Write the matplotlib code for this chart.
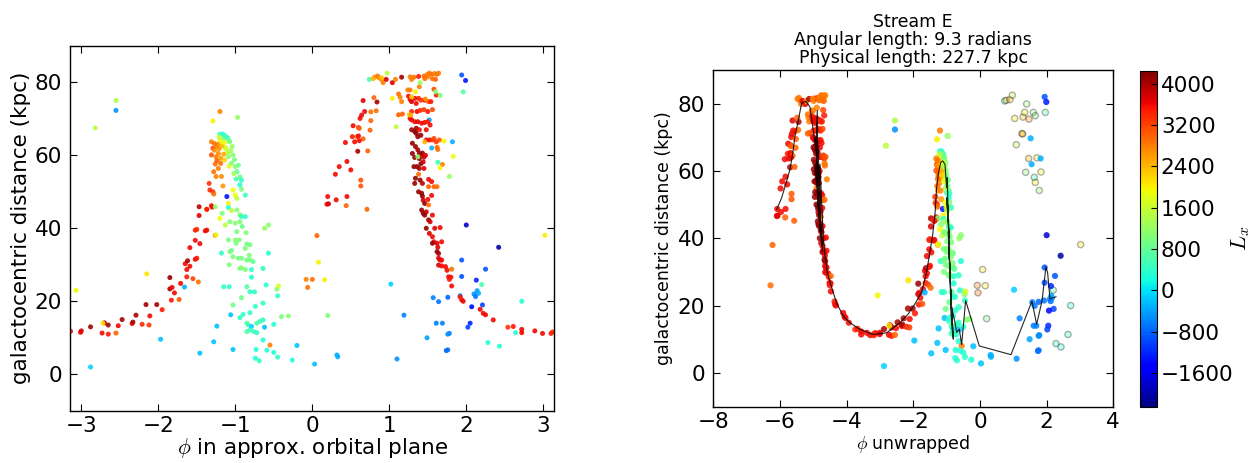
import numpy as np
import matplotlib
matplotlib.use("Agg")
import matplotlib.pyplot as plt
from matplotlib.colors import Normalize

plt.rcParams['mathtext.fontset'] = 'cm'
plt.rcParams['font.family'] = ['DejaVu Sans']

# ---------------- data (phi wrapped, galactocentric distance r, L_x) ----------------
# A1: red tail of near arm
tail_phi = [-3.14, -3.01, -3.00, -2.88, -2.73, -2.70, -2.65, -2.65, -2.55, -2.52,
            -2.47, -2.34, -2.33, -2.29, -2.21, -2.16, -2.12, -2.11, -2.02, -1.95,
            -1.85, -1.85, -1.82, -1.79, -1.83, -1.73, -1.71, -1.65, -1.63, -1.62,
            -1.63, -1.59, -1.59, -1.55, -1.52, -1.50, -1.52, -1.48, -1.46, -1.52,
            -1.50, -1.47, -1.47, -1.37, -1.37, -1.39, -1.26]
tail_r = [11.8, 11.5, 11.9, 13.0, 11.3, 14.1, 11.0, 13.5, 11.3, 13.3,
          15.0, 13.9, 14.3, 16.2, 13.7, 19.1, 13.5, 16.0, 19.1, 17.7,
          26.5, 23.4, 23.8, 22.3, 20.3, 20.5, 24.9, 30.3, 28.7, 31.1,
          26.7, 29.6, 34.7, 26.2, 31.5, 31.8, 36.7, 25.3, 35.8, 39.5,
          39.7, 45.9, 43.5, 45.2, 39.5, 39.3, 38.1]
tail_L = [3600, 3600, 3700, 4000, 3600, 4000, 3500, 4000, 3000, 3600,
          4000, 3600, 4000, 4000, 3400, 4000, 3300, 3600, 4000, 3500,
          4100, 4000, 3600, 3600, 3500, 3100, 3600, 3600, 3600, 4000,
          3500, 3600, 3600, 3200, 3600, 3500, 3600, 2900, 3600, 3500,
          3400, 3900, 3700, 3200, 3600, 3600, 2900]

# A2: isolated points
out_phi = [-3.07, -2.82, -2.55, -2.55, -2.88, -2.72, -2.15, -1.97, -1.66, -1.46]
out_r = [23.0, 67.5, 75.0, 72.3, 2.0, 14.0, 27.5, 9.6, 23.9, 5.8]
out_L = [1950, 1500, 1400, -500, -100, 2100, 2100, -200, -300, -200]

# A3: upper part of the phi ~ -1 peak
peak_phi = [-1.20, -1.29, -0.97, -1.20, -1.16, -1.10, -1.15, -1.07, -1.04, -1.20,
            -1.18, -1.13, -1.03, -1.09, -1.05, -1.00, -0.98, -0.94, -0.92, -0.94,
            -1.31, -1.29, -1.27, -1.24, -1.22, -1.25, -1.19, -1.31, -1.26, -1.22,
            -1.28, -1.25, -1.18, -1.16, -1.34, -1.33, -1.29, -1.28, -1.11, -1.03,
            -1.00, -0.98, -0.92, -0.87, -1.09, -1.09, -1.05, -0.98, -0.94, -0.92,
            -0.87, -1.31, -1.30, -1.26, -1.17, -1.20, -1.13, -1.07, -1.00, -0.94,
            -0.91, -0.98, -0.86, -1.37,
            -1.23, -1.21, -1.17, -1.14, -1.12, -1.10, -1.15, -1.19, -1.24, -1.27,
            -1.13, -1.08, -1.06, -1.01, -0.96, -0.99, -1.02, -1.08, -1.14, -1.21]
peak_r = [72.0, 69.4, 70.4, 65.8, 65.8, 64.8, 64.7, 63.7, 62.4, 64.2,
          63.3, 61.9, 60.1, 59.6, 57.8, 56.9, 55.5, 54.1, 53.2, 51.9,
          63.7, 61.9, 61.4, 62.4, 60.5, 59.6, 59.2, 60.1, 57.6, 56.4,
          55.5, 54.2, 54.2, 51.6, 52.3, 50.5, 50.0, 49.4, 48.7, 50.5,
          49.1, 48.2, 50.7, 49.1, 46.8, 45.7, 44.9, 45.0, 43.7, 43.2,
          43.2, 46.2, 45.8, 45.9, 44.1, 42.7, 40.9, 41.8, 41.4, 41.8,
          40.5, 39.1, 38.8, 45.2,
          63.0, 61.8, 62.6, 63.5, 62.0, 60.8, 60.3, 57.8, 58.5, 63.2,
          65.3, 64.0, 61.2, 58.8, 57.3, 53.5, 55.0, 57.0, 58.7, 65.0]
peak_L = [2800, 2000, 1200, 400, 300, 350, 900, 1100, 1200, 2000,
          1800, 1600, 1100, 1100, 1000, 1000, 800, 900, 400, 300,
          2800, 3200, 2700, 2800, 2700, 2800, 2600, 3100, 2900, 2800,
          2900, 2800, 2700, 2600, 3300, 3400, 3300, 2900, -1300, 1900,
          1900, 1500, 1000, 500, 2000, 300, 1500, 1100, 1000, 500,
          400, 3500, 3600, 1100, 1000, 1900, 1500, 1000, 1100, 1000,
          900, 1000, 1000, 3500,
          2700, 2600, 2400, 1900, 1700, 1500, 2500, 2900, 3000, 2900,
          600, 900, 1300, 1000, 900, 600, 1300, 1800, 2200, 1500]

# A4: lower part of the peak (green / cyan plume)
plume_phi = [-1.25, -1.09, -1.00, -0.99, -0.95, -0.85, -0.81, -0.87, -1.18, -1.07,
             -1.05, -1.03, -0.96, -0.92, -0.85, -0.81, -0.77, -0.82, -1.08, -0.94,
             -0.92, -0.87, -0.79, -0.64, -0.57, -0.62, -0.57, -0.79, -1.15, -1.08,
             -0.85, -0.81, -0.75, -0.60, -0.46, -0.44, -0.45, -0.92, -1.03, -0.74,
             -0.64, -0.81, -1.06, -0.94, -0.90, -1.24, -0.85, -0.83, -0.79, -0.72,
             -0.68, -0.64, -0.62, -0.85, -0.81, -0.76, -0.72, -0.50, -0.40, -0.31,
             -0.64, -0.55, -0.59, -0.50, -0.45, -0.73, -0.74, -0.69, -1.03, -1.28,
             -0.26, -0.20, 0.03, 0.32, 0.33]
plume_r = [38.2, 36.8, 36.8, 35.9, 36.8, 35.7, 35.5, 34.5, 33.2, 33.6,
           33.9, 32.2, 31.8, 31.8, 31.3, 31.3, 30.9, 32.6, 30.0, 29.0,
           29.2, 28.7, 28.7, 29.0, 33.2, 40.0, 40.9, 26.6, 24.0, 24.0,
           24.0, 22.6, 22.6, 24.5, 23.3, 24.2, 21.5, 21.0, 19.0, 18.6,
           19.5, 16.9, 16.3, 15.5, 16.4, 13.2, 14.0, 13.5, 13.1, 14.0,
           14.5, 14.9, 12.9, 11.7, 12.1, 11.7, 11.4, 13.7, 15.8, 16.0,
           9.4, 8.0, 6.6, 6.0, 4.7, 6.8, 4.4, 3.7, 6.8, 8.9,
           3.9, 7.9, 2.8, 5.3, 4.8]
plume_L = [1900, 1000, 1100, 1000, 1000, 1000, 900, 1000, 400, 1000,
           900, 1000, 900, 1000, 900, 1000, 800, 1000, 1000, 900,
           1100, 1000, 400, 400, 300, 1200, 1100, 300, 400, 400,
           700, 400, 400, 300, 1100, 1700, 400, 900, 900, 400,
           400, 400, -200, 400, 400, -200, 700, 500, -100, 600,
           500, 400, -200, 600, 500, 500, 400, 300, 1000, 1100,
           300, 2800, 300, 300, 400, 300, 300, 400, -200, -200,
           300, -200, -200, -300, -300]

# A5: negative L_x group near phi ~ 2
blue_phi = [1.02, 1.19, 1.49, 1.10, 1.94, 1.99, 1.52, 1.82, 2.00, 2.42,
            1.94, 2.25, 1.94, 2.13, 2.14, 2.16, 2.10, 2.12, 2.21, 2.07,
            2.05, 2.02, 1.92, 1.76, 1.64, 1.57, 1.61, 1.69, 1.78, 1.76,
            1.74, 1.76, 1.55]
blue_r = [24.7, 16.2, 10.0, 4.2, 82.0, 80.5, 69.7, 63.7, 40.9, 34.8,
          31.3, 28.8, 26.8, 25.8, 22.9, 22.2, 22.0, 21.3, 19.0, 18.5,
          14.0, 12.9, 21.5, 21.1, 19.9, 21.0, 14.0, 14.0, 11.2, 11.0,
          6.5, 6.7, 62.0]
blue_L = [-100, -600, -400, -500, -900, -1300, -300, -300, -1800, -2000,
          -900, -900, -900, -1200, -400, -300, -500, -700, -1000, -1400,
          -1200, -1000, -700, -800, -700, -600, -600, -600, -600, -500,
          -800, -700, -300]

# B: far arm (unwrapped by one turn in the right panel)
far1_phi = [0.81, 0.85, 0.87, 0.90, 0.92, 0.96, 1.04, 1.08, 1.16, 1.29,
            1.32, 1.38, 1.39, 1.46, 1.50, 1.27, 1.12, 1.14, 1.16, 0.66,
            0.84, 0.80, 0.83, 0.76, 0.68, 0.64, 0.62, 0.76, 0.53, 0.60,
            0.61, 0.58, 0.52, 0.60, 0.66, 0.75, 0.43, 0.55, 0.61, 0.59,
            0.72, 0.45, 0.35, 0.30, 0.50, 0.63, 0.63, 0.20, 0.45, 0.31,
            0.19, 0.21, 0.44, 0.71, 1.12, 1.17, 0.06, 0.00]
far1_r = [81.4, 81.7, 81.2, 80.8, 79.9, 80.8, 79.9, 80.8, 81.4, 80.8,
          81.4, 81.6, 78.8, 81.0, 81.5, 77.9, 76.8, 75.9, 74.7, 75.0,
          74.6, 75.8, 72.2, 71.9, 72.0, 71.0, 70.1, 69.5, 68.1, 67.6,
          67.4, 65.1, 65.1, 65.3, 64.5, 66.9, 63.5, 63.7, 64.0, 61.1,
          61.2, 58.3, 56.9, 54.8, 56.0, 53.2, 51.6, 48.7, 48.7, 47.8,
          46.6, 46.7, 46.2, 45.2, 71.1, 71.3, 38.0, 26.0]
far1_L = [2800, 2900, 2700, 2900, 2800, 3700, 3700, 2800, 4000, 2800,
          2900, 3500, 2800, 2900, 2800, 2800, 2900, 2800, 2800, 3700,
          4000, 3000, 2900, 2900, 3600, 3600, 3600, 3000, 3600, 3400,
          3000, 3000, 3500, 3600, 3000, 3000, 3600, 3600, 3600, 4000,
          3000, 3600, 3600, 3600, 3600, 3100, 3100, 3600, 3600, 3600,
          3600, 3700, 3000, 3000, 3000, 3000, 3000, 2900]

far2_phi = [1.45, 1.49, 1.52, 1.55, 1.59, 1.62, 1.64, 1.60, 1.56, 1.27,
            1.24, 1.58, 1.61, 1.38, 1.41, 1.46, 1.51, 1.54, 1.25, 1.27,
            1.29, 1.33, 1.35, 1.27, 1.29, 1.36, 1.40, 1.45, 1.50, 1.56,
            1.29, 1.33, 1.37, 1.42, 1.46, 1.50, 1.53, 1.29, 1.33, 1.35,
            1.39, 1.48, 1.35, 1.37, 1.41, 1.48, 1.52, 1.56, 1.58, 1.61,
            1.65, 1.63, 1.62]
far2_r = [81.7, 82.1, 82.5, 82.2, 82.4, 82.2, 82.5, 80.8, 81.0, 81.5,
          77.9, 78.1, 76.5, 75.6, 75.1, 75.1, 74.7, 74.7, 76.2, 75.3,
          74.7, 75.6, 74.2, 70.1, 72.0, 72.0, 72.3, 72.5, 72.0, 72.5,
          69.7, 69.2, 69.2, 68.8, 69.0, 69.2, 68.3, 67.0, 66.5, 67.4,
          67.0, 67.0, 66.0, 65.1, 65.5, 64.2, 64.2, 64.2, 64.6, 63.7,
          64.2, 61.6, 62.2]
far2_L = [2900, 2800, 2800, 2900, 2800, 2900, 2800, 3000, 2900, 2800,
          2800, 3200, 3500, 3500, 3300, 3600, 3200, 3500, 3600, 3600,
          3700, 3600, 3600, 3600, 3400, 3600, 3400, 3300, 3500, 3200,
          3600, 3600, 3700, 3600, 3600, 3500, 3600, 4100, 4100, 4100,
          3600, 3600, 4100, 4100, 4100, 3600, 3600, 3300, 3200, 3300,
          3100, 2900, 2900]

far3_phi = [1.30, 1.34, 1.37, 1.39, 1.41, 1.43, 1.45, 1.47, 1.30, 1.33,
            1.39, 1.41, 1.44, 1.32, 1.36, 1.39, 1.45, 1.38, 1.34, 1.33,
            1.40, 1.43, 1.51, 1.55, 1.51, 1.58, 1.62, 1.38, 1.42, 1.43,
            1.44, 1.46, 1.50, 1.55, 1.51, 1.42, 1.44, 1.48, 1.46, 1.51,
            1.53, 1.56, 1.48, 1.59, 1.66, 1.52, 1.56, 1.58, 1.56, 1.62,
            1.63, 1.68, 1.62, 1.64, 1.64, 1.66, 1.68, 1.64, 1.68, 1.73,
            1.75, 1.81, 1.77, 1.80, 1.78, 1.81, 1.94, 1.96, 1.92, 2.18,
            2.22, 2.25, 2.35, 2.54, 2.61, 2.72, 2.72, 2.89, 2.99, 3.10,
            3.12, 1.69]
far3_r = [63.3, 62.4, 61.5, 60.5, 60.0, 60.6, 59.5, 60.0, 60.5, 59.4,
          59.1, 57.7, 58.2, 56.9, 56.9, 56.4, 56.4, 54.8, 53.7, 52.3,
          53.2, 52.3, 53.4, 52.8, 51.4, 51.4, 51.4, 50.0, 49.6, 48.8,
          47.7, 46.8, 47.9, 49.0, 46.4, 45.0, 44.1, 44.5, 43.6, 42.3,
          41.8, 43.6, 40.0, 40.0, 40.2, 38.6, 37.7, 36.3, 35.9, 35.9,
          34.8, 36.3, 33.6, 33.1, 31.8, 31.3, 31.3, 29.9, 29.7, 29.5,
          28.5, 28.8, 26.7, 26.6, 26.0, 24.2, 20.4, 20.0, 21.2, 17.8,
          16.7, 16.3, 14.9, 12.9, 13.1, 12.3, 11.4, 11.9, 11.2, 11.2,
          11.6, 57.5]
far3_L = [4100, 4100, 4000, 4100, 3800, 4100, 3800, 3700, 4100, 4100,
          4100, 4100, 3800, 4100, 4100, 4000, 3700, 2900, 4100, 4100,
          4100, 3900, 3600, 3600, 3000, 3000, 2900, 4100, 4100, 4100,
          3800, 4100, 3600, 3600, 2900, 4100, 4100, 3800, 4100, 4100,
          3800, 3600, 4100, 3700, 3600, 3700, 3600, 3600, 4100, 3700,
          3700, 3600, 4100, 4000, 3700, 3700, 3600, 3700, 3600, 3600,
          3600, 2900, 3600, 3600, 3500, 3600, 3600, 3600, 3500, 3600,
          3600, 3600, 3600, 3300, 3500, 3600, 3600, 3600, 3600, 3500,
          3400, 2800]

# C: points drawn faded in the right panel
faded_phi = [0.74, 0.79, 0.90, 0.97, 1.40, 1.04, 1.29, 1.34, 1.47, 1.60,
             1.66, 1.96, 1.26, 1.28, 1.09, 1.46, 1.71, 1.83, 1.37, 1.63,
             1.66, 1.78, 3.02, 0.08, -0.08, 0.16, -0.06, 0.20, 2.20, 2.72,
             2.64, 2.28, 2.43]
faded_r = [80.8, 81.0, 81.2, 82.5, 79.9, 75.6, 76.0, 77.4, 75.4, 77.4,
           76.4, 77.4, 71.1, 71.0, 67.8, 63.7, 63.9, 59.7, 59.6, 58.1,
           56.6, 54.2, 38.1, 30.7, 26.0, 25.9, 23.8, 16.1, 24.6, 20.0,
           11.4, 8.7, 7.7]
faded_L = [500, 2400, 2300, 1500, 1200, 2000, 2300, 2000, 2600, 1100,
           1000, 700, 2300, 2500, 1500, 2400, 2000, 1900, 1100, 500,
           2000, 1200, 2000, 2000, 2800, 2000, 2900, 1000, 600, 300,
           300, 300, 300]

# track drawn over the unwrapped stream
track_x = [-6.10, -5.95, -5.80, -5.70, -5.62, -5.55, -5.45, -5.35, -5.22, -5.10,
           -5.00, -4.92, -4.88, -4.85, -4.92, -4.80, -4.90, -4.78, -4.95, -4.75,
           -4.88, -4.82, -4.90, -4.72, -4.85, -4.80, -4.70, -4.65, -4.58, -4.50,
           -4.40, -4.30, -4.10, -3.90, -3.60, -3.20, -2.80, -2.40, -2.15, -1.95,
           -1.75, -1.60, -1.50, -1.42, -1.35, -1.30, -1.25, -1.18, -1.12, -1.05,
           -1.00, -0.98, -0.95, -1.00, -0.92, -0.97, -0.90, -0.95, -0.85, -0.92,
           -0.82, -0.88, -0.80, -0.86, -0.75, -0.70, -0.62, -0.55, -0.43, -0.02,
           0.93, 1.56, 1.70, 1.86, 1.98, 2.03, 2.10, 2.28]
track_y = [48.5, 52.0, 57.0, 60.5, 65.0, 70.3, 75.0, 80.2, 80.7, 79.0,
           72.0, 66.0, 78.0, 48.0, 70.0, 42.0, 74.0, 50.0, 62.0, 38.0,
           66.0, 45.0, 60.0, 36.0, 55.0, 62.0, 40.0, 35.0, 30.0, 27.0,
           23.8, 20.8, 16.8, 14.9, 12.9, 11.4, 11.9, 14.9, 17.5, 20.5,
           24.0, 30.0, 36.0, 41.0, 47.0, 55.0, 59.0, 62.5, 63.0, 62.0,
           55.0, 58.0, 45.0, 52.0, 40.0, 50.0, 30.0, 42.0, 15.0, 35.0,
           11.0, 25.0, 10.0, 20.0, 15.0, 12.0, 13.0, 8.4, 21.5, 8.0,
           5.4, 21.3, 14.4, 21.3, 31.5, 29.7, 22.0, 22.6]

# ---------------- assemble ----------------
near_phi = np.array(tail_phi + out_phi + peak_phi + plume_phi + blue_phi)
near_r = np.array(tail_r + out_r + peak_r + plume_r + blue_r)
near_L = np.array(tail_L + out_L + peak_L + plume_L + blue_L)
far_phi = np.array(far1_phi + far2_phi + far3_phi)
far_r = np.array(far1_r + far2_r + far3_r)
far_L = np.array(far1_L + far2_L + far3_L)
fad_phi = np.array(faded_phi)
fad_r = np.array(faded_r)
fad_L = np.array(faded_L)

cmap = plt.get_cmap('jet')
norm = Normalize(vmin=-2250, vmax=4250)

W, H = 1258, 463
fig = plt.figure(figsize=(W / 100, H / 100), dpi=100)
fig.patch.set_facecolor('white')

def fr(x0, y0, x1, y1):
    return [x0 / W, 1 - y1 / H, (x1 - x0) / W, (y1 - y0) / H]

ax1 = fig.add_axes(fr(70.4, 45.8, 554.2, 410.8))
ax2 = fig.add_axes(fr(713.3, 70.0, 1113.3, 406.5))
cax = fig.add_axes(fr(1140.0, 70.7, 1156.7, 406.7))

TICK_FS = 15.5

# left panel
all_phi = np.concatenate([near_phi, far_phi, fad_phi])
all_r = np.concatenate([near_r, far_r, fad_r])
all_L = np.concatenate([near_L, far_L, fad_L])
ax1.scatter(all_phi, all_r, c=all_L, cmap=cmap, norm=norm, s=13,
            linewidths=0, alpha=0.9)
ax1.set_xlim(-np.pi, np.pi)
ax1.set_ylim(-10, 90)
ax1.set_xticks([-3, -2, -1, 0, 1, 2, 3])
ax1.set_yticks([0, 20, 40, 60, 80])
ax1.set_xlabel(r'$\phi$ in approx. orbital plane', fontsize=15.5, labelpad=0)
ax1.set_ylabel('galactocentric distance (kpc)', fontsize=15.5, labelpad=3)

# right panel
ax2.scatter(fad_phi, fad_r, c=fad_L, cmap=cmap, norm=norm, s=20,
            edgecolors='k', linewidths=1.0, alpha=0.3)
ax2.scatter(np.concatenate([near_phi, far_phi - 2 * np.pi]),
            np.concatenate([near_r, far_r]),
            c=np.concatenate([near_L, far_L]), cmap=cmap, norm=norm,
            s=20, linewidths=0, alpha=0.85)
ax2.plot(track_x, track_y, color='k', lw=0.8, alpha=0.85)
ax2.set_xlim(-8, 4)
ax2.set_ylim(-10, 90)
ax2.set_xticks([-8, -6, -4, -2, 0, 2, 4])
ax2.set_yticks([0, 20, 40, 60, 80])
ax2.set_xlabel(r'$\phi$ unwrapped', fontsize=12.5, labelpad=1)
ax2.set_ylabel('galactocentric distance (kpc)', fontsize=12.5, labelpad=3)
ax2.set_title('Stream E\nAngular length: 9.3 radians\nPhysical length: 227.7 kpc',
              fontsize=12.5, linespacing=1.0, pad=5)

for ax in (ax1, ax2):
    ax.tick_params(direction='in', top=True, right=True, labelsize=TICK_FS,
                   length=5, width=0.8)
    ax.tick_params(axis='x', pad=4)
    ax.tick_params(axis='y', pad=6)
    for sp in ax.spines.values():
        sp.set_linewidth(1.0)

cb = fig.colorbar(plt.cm.ScalarMappable(norm=norm, cmap=cmap), cax=cax)
cb.set_ticks([-1600, -800, 0, 800, 1600, 2400, 3200, 4000])
cb.ax.tick_params(labelsize=TICK_FS, direction='in', length=4, pad=3)
cb.set_label(r'$L_x$', fontsize=16, labelpad=-3)

fig.savefig('out.png', dpi=100, facecolor='white')
